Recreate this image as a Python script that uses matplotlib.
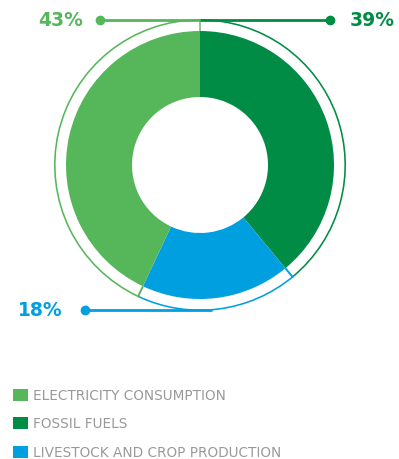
import matplotlib.pyplot as plt
import numpy as np

# slices in clockwise order starting at 12 o'clock
labels = ["FOSSIL FUELS", "LIVESTOCK AND CROP PRODUCTION", "ELECTRICITY CONSUMPTION"]
shares = [39, 18, 43]
colors = ["#008c44", "#009fdf", "#56b65a"]

legend_order = ["ELECTRICITY CONSUMPTION", "FOSSIL FUELS", "LIVESTOCK AND CROP PRODUCTION"]

W, H = 399, 460
cx, cy = 200, H - 166
r_out, r_in, r_ring = 134, 68, 146

fig = plt.figure(figsize=(W / 100, H / 100), dpi=100)
ax = fig.add_axes([0, 0, 1, 1])

# main donut
ax.pie(shares, colors=colors, startangle=90, counterclock=False, center=(cx, cy),
       radius=r_out, wedgeprops=dict(width=r_out - r_in, edgecolor="none"), frame=True)
# thin outer ring
ax.pie(shares, colors=colors, startangle=90, counterclock=False, center=(cx, cy),
       radius=r_ring, wedgeprops=dict(width=1.6, edgecolor="none"), frame=True)
ax.set_xlim(0, W)
ax.set_ylim(0, H)
ax.set_aspect("equal")
ax.axis("off")

# radial ticks at slice boundaries
bounds = np.cumsum([0] + shares)
tick_colors = ["#8cc88e", "#009fdf", "#56b65a"]
for b, c in zip(bounds[:-1], tick_colors):
    ang = np.deg2rad(90 - 360 * b / 100)
    ax.plot([cx + r_out * np.cos(ang), cx + r_ring * np.cos(ang)],
            [cy + r_out * np.sin(ang), cy + r_ring * np.sin(ang)], color=c, lw=1.4,
            solid_capstyle="butt")

# callouts
y_top = H - 21
ax.plot([100, cx], [y_top, y_top], color=colors[2], lw=2, solid_capstyle="butt")
ax.plot([100], [y_top], "o", color=colors[2], ms=6)
ax.plot([cx, 330], [y_top, y_top], color=colors[0], lw=2, solid_capstyle="butt")
ax.plot([330], [y_top], "o", color=colors[0], ms=6)
y_bot = H - 311
ax.plot([85, 212], [y_bot, y_bot], color=colors[1], lw=2, solid_capstyle="butt")
ax.plot([85], [y_bot], "o", color=colors[1], ms=6)

pct_font = dict(fontsize=13.5, fontweight="bold", va="center")
ax.text(83, y_top, f"{shares[2]}%", color=colors[2], ha="right", **pct_font)
ax.text(350, y_top, f"{shares[0]}%", color=colors[0], ha="left", **pct_font)
ax.text(63, y_bot, f"{shares[1]}%", color=colors[1], ha="right", **pct_font)

# legend
for i, name in enumerate(legend_order):
    y = H - (396 + 28.5 * i)
    ax.add_patch(plt.Rectangle((13, y - 5.5), 15, 12, color=colors[labels.index(name)], lw=0))
    ax.text(33, y, name, color="#999999", fontsize=9.8, va="center", ha="left")

fig.savefig("out.png", dpi=100)
